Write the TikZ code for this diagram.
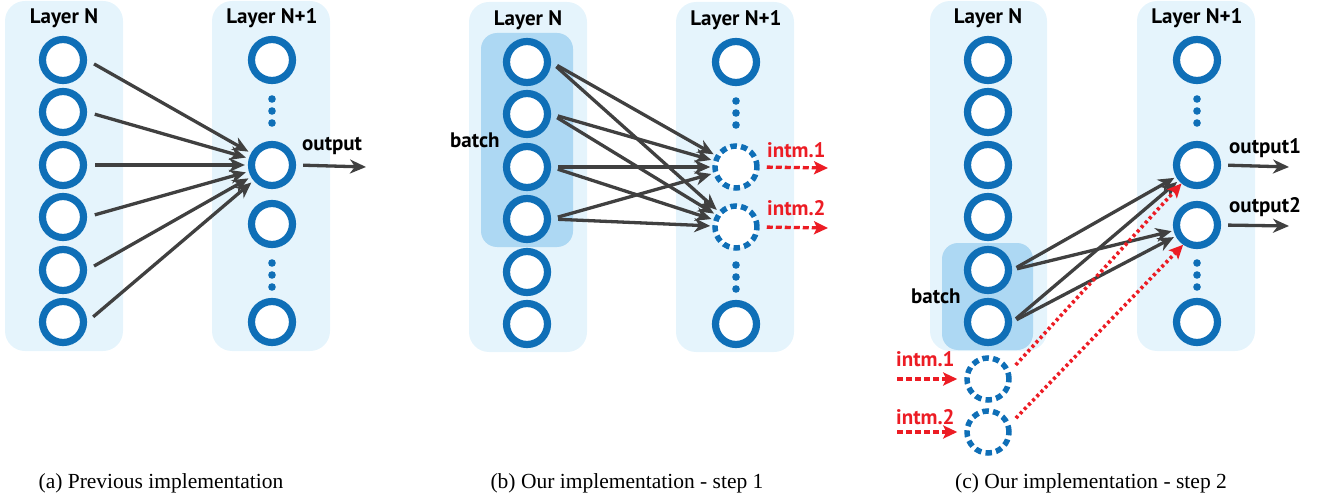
\documentclass[tikz,border=0pt]{standalone}
\usepackage{fontspec}
\setmainfont{Liberation Serif}
\newfontfamily\labfont{PT Sans}
\usetikzlibrary{arrows.meta}
\definecolor{boxc}{HTML}{E5F4FC}
\definecolor{batchc}{HTML}{ADD8F3}
\definecolor{ringc}{HTML}{0F6FB7}
\definecolor{arrc}{HTML}{404040}
\definecolor{redc}{HTML}{EC1C24}
\begin{document}
\begin{tikzpicture}[x=1pt,y=-1pt,
 neuron/.style={circle,draw=ringc,line width=7.2pt,minimum size=41pt,inner sep=0pt,fill=white},
 dneuron/.style={neuron,line width=5.5pt,minimum size=42pt,dash pattern=on 6.5pt off 4.2pt},
 layerbox/.style={fill=boxc,rounded corners=20pt},
 batchbox/.style={fill=batchc,rounded corners=16pt},
 conn/.style={draw=arrc,line width=3.3pt,-{Stealth[length=16pt,width=14pt,inset=5pt]}},
 rconn/.style={draw=redc,line width=3.3pt,dash pattern=on 6pt off 3pt,-{Stealth[length=14pt,width=13pt,inset=3pt]}},
 rdot/.style={draw=redc,line width=3.6pt,dash pattern=on 3pt off 3pt,-{Stealth[length=14pt,width=13pt,inset=3pt]}},
 ttl/.style={font=\labfont\bfseries\fontsize{21}{24}\selectfont,inner sep=0pt},
 rlab/.style={ttl,text=redc},
 captxt/.style={font=\fontsize{21.5}{24}\selectfont,inner sep=0pt},
 dotc/.style={fill=ringc}
]
\useasboundingbox (0,0) rectangle (1327,497);
% ---------------- (a) ----------------
\fill[layerbox] (5,1) rectangle (123,351);
\fill[layerbox] (212,1) rectangle (330,351);
\node[ttl] (aLN) at (64,18) {Layer N};
\node[ttl] (aLN1) at (272,18) {Layer N+1};
\foreach \i/\y in {1/60,2/112,3/165,4/217,5/270,6/322}
  \node[neuron] (al\i) at (63,\y) {};
\node[neuron] (at1) at (272,60) {};
\node[neuron] (at2) at (272,165) {};
\node[neuron] (at3) at (272,224) {};
\node[neuron] (at4) at (272,322) {};
\foreach \y in {99,111,123,263,275,287} \fill[dotc] (272,\y) circle (3.8pt);
\foreach \i in {1,...,6}
  \draw[conn,shorten <=8pt,shorten >=3pt] (al\i.east) -- (at2);
\coordinate (aout) at (366,167);
\draw[conn,shorten <=7pt] (at2.east) -- (aout);
\node[ttl,anchor=west] (aoutl) at (302,146) {output};
\node[captxt] (capa) at (161,483) {(a) Previous implementation};
% ---------------- (b) ----------------
\fill[layerbox] (469,2) rectangle (587,352);
\fill[layerbox] (676,2) rectangle (794,352);
\fill[batchbox] (481,33) rectangle (573,247);
\node[ttl] (bLN) at (528,20) {Layer N};
\node[ttl] (bLN1) at (736,20) {Layer N+1};
\foreach \i/\y in {1/62,2/114,3/167,4/219,5/272,6/324}
  \node[neuron] (bl\i) at (527,\y) {};
\node[neuron] (bt1) at (736,62) {};
\node[dneuron] (bd1) at (736,167) {};
\node[dneuron] (bd2) at (736,227) {};
\node[neuron] (bt4) at (736,324) {};
\foreach \y in {101,113,125,265,277,289} \fill[dotc] (736,\y) circle (3.8pt);
\foreach \i in {1,...,4}{
  \draw[conn,shorten <=7pt,shorten >=2pt] (bl\i.east) -- (bd1);
  \draw[conn,shorten <=7pt,shorten >=2pt] (bl\i.east) -- (bd2);
}
\node[ttl,anchor=west] (bbatch) at (450,140) {batch};
\node[rlab,anchor=west] (bi1l) at (767,150) {intm.1};
\node[rlab,anchor=west] (bi2l) at (767,208) {intm.2};
\coordinate (bo1) at (828,168);
\coordinate (bo2) at (828,228);
\draw[rconn,shorten <=7pt] (bd1.east) -- (bo1);
\draw[rconn,shorten <=7pt] (bd2.east) -- (bo2);
\node[captxt] (capb) at (627,483) {(b) Our implementation - step 1};
% ---------------- (c) ----------------
\fill[layerbox] (930,1) rectangle (1047,351);
\fill[layerbox] (1137,1) rectangle (1255,351);
\fill[batchbox] (942,243) rectangle (1033,350);
\node[ttl] (cLN) at (988,18) {Layer N};
\node[ttl] (cLN1) at (1197,18) {Layer N+1};
\foreach \i/\y in {1/60,2/112,3/165,4/217,5/270,6/322}
  \node[neuron] (cl\i) at (988,\y) {};
\node[neuron] (ct1) at (1197,60) {};
\node[neuron] (co1) at (1197,165) {};
\node[neuron] (co2) at (1197,225) {};
\node[neuron] (ct4) at (1197,322) {};
\foreach \y in {99,111,123,263,275,287} \fill[dotc] (1197,\y) circle (3.8pt);
\node[dneuron] (cd1) at (988,379) {};
\node[dneuron] (cd2) at (988,432) {};
\foreach \i in {5,6}{
  \draw[conn,shorten <=5pt,shorten >=2pt] (cl\i.east) -- (co1);
  \draw[conn,shorten <=5pt,shorten >=2pt] (cl\i.east) -- (co2);
}
\draw[rdot,shorten <=8pt] (cd1.20) -- (co1.230);
\draw[rdot,shorten <=8pt] (cd2.20) -- (co2.235);
\node[ttl,anchor=west] (cbatch) at (911,296) {batch};
\node[rlab,anchor=west] (ci1l) at (896,359) {intm.1};
\node[rlab,anchor=west] (ci2l) at (896,417) {intm.2};
\coordinate (ci1s) at (897,379);
\coordinate (ci2s) at (897,432);
\draw[rconn,shorten >=7pt] (ci1s) -- (cd1.west);
\draw[rconn,shorten >=7pt] (ci2s) -- (cd2.west);
\coordinate (coa1) at (1289,167);
\coordinate (coa2) at (1289,226);
\draw[conn,shorten <=7pt] (co1.east) -- (coa1);
\draw[conn,shorten <=7pt] (co2.east) -- (coa2);
\node[ttl,anchor=west] (co1l) at (1229,148) {output1};
\node[ttl,anchor=west] (co2l) at (1229,207) {output2};
\node[captxt] (capc) at (1091,483) {(c) Our implementation - step 2};
\end{tikzpicture}
\end{document}
